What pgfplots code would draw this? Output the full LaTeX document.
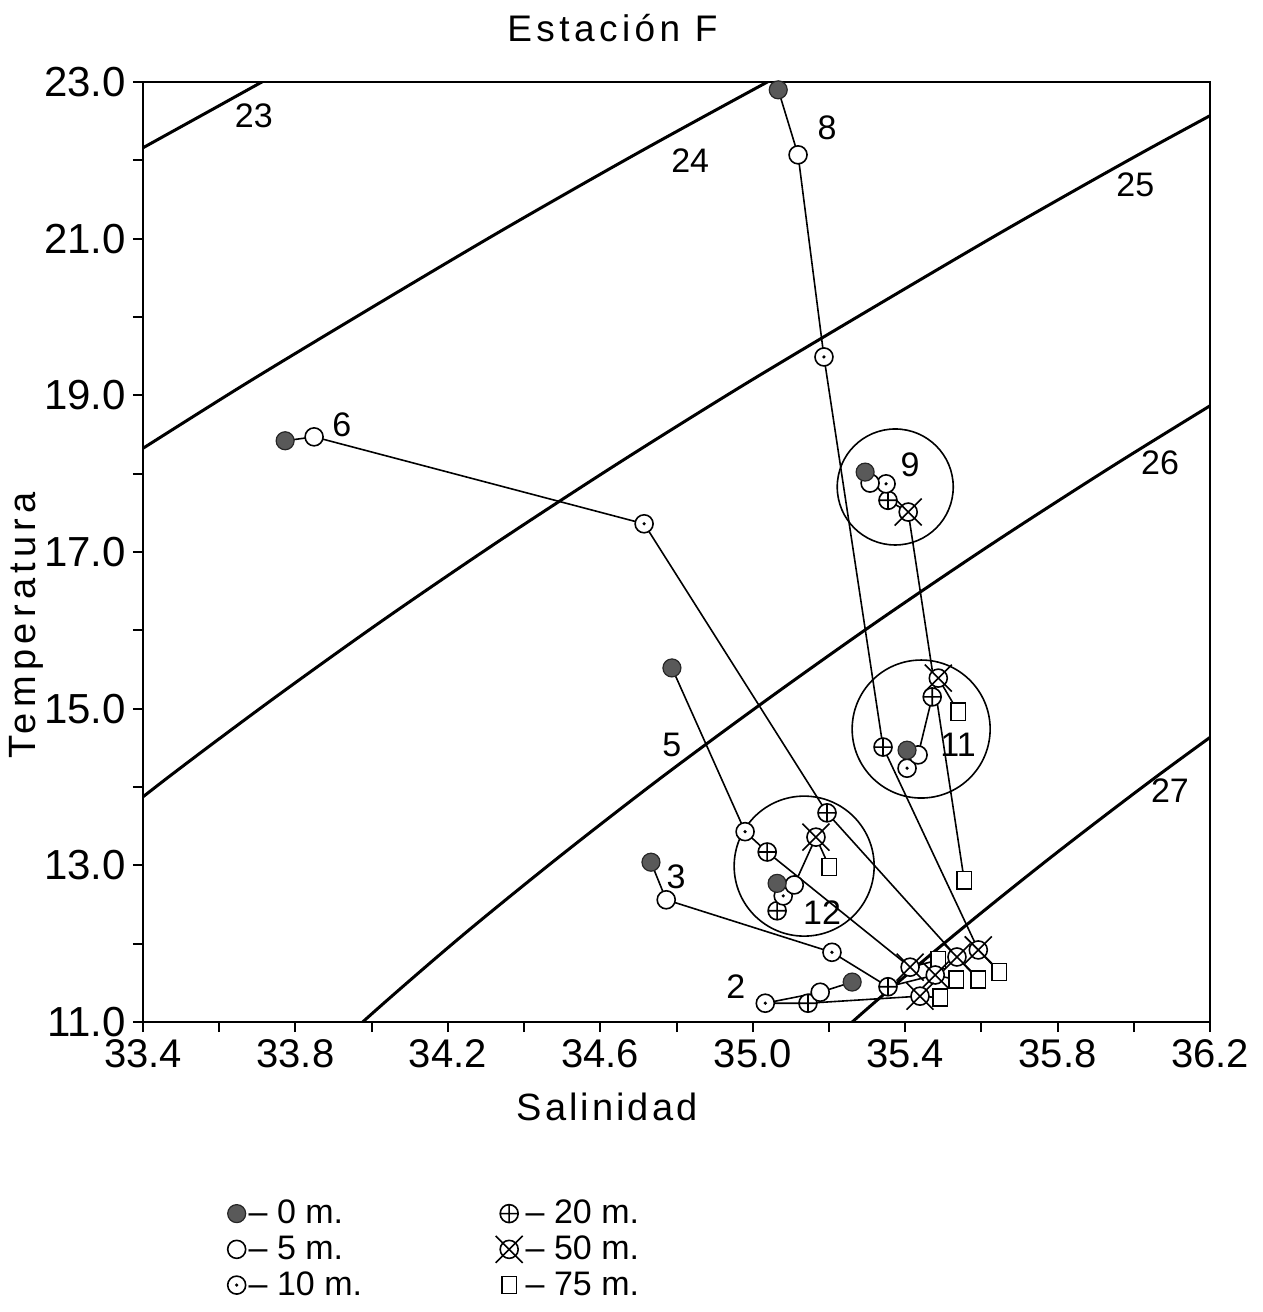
\documentclass[border=0pt]{standalone}
\usepackage{pgfplots}
\pgfplotsset{compat=1.18}
\usepackage{fontspec}
\setmainfont{Liberation Sans}
\usetikzlibrary{plotmarks}

\pgfdeclareplotmark{dotcirc}{%
  \pgfpathcircle{\pgfpointorigin}{\pgfplotmarksize}\pgfusepathqfillstroke
  \begin{pgfscope}%
  \pgfsetfillcolor{black}%
  \pgfpathcircle{\pgfpointorigin}{0.9pt}\pgfusepathqfill
  \end{pgfscope}}
\pgfdeclareplotmark{xcirc}{%
  \pgfpathcircle{\pgfpointorigin}{\pgfplotmarksize}\pgfusepathqfillstroke
  \pgfpathmoveto{\pgfpoint{-1.5\pgfplotmarksize}{-1.5\pgfplotmarksize}}%
  \pgfpathlineto{\pgfpoint{1.5\pgfplotmarksize}{1.5\pgfplotmarksize}}%
  \pgfpathmoveto{\pgfpoint{-1.5\pgfplotmarksize}{1.5\pgfplotmarksize}}%
  \pgfpathlineto{\pgfpoint{1.5\pgfplotmarksize}{-1.5\pgfplotmarksize}}%
  \pgfusepathqstroke}
\pgfdeclareplotmark{rectv}{%
  \pgfpathrectanglecorners{\pgfpoint{-0.8\pgfplotmarksize}{-0.95\pgfplotmarksize}}{\pgfpoint{0.8\pgfplotmarksize}{0.95\pgfplotmarksize}}%
  \pgfusepathqfillstroke}

\pgfplotsset{
  m0/.style={only marks, mark=*, mark size=4.5pt, mark options={fill=black!65, draw=black!85, line width=0.6pt}},
  m5/.style={only marks, mark=*, mark size=4.5pt, mark options={fill=white, draw=black, line width=0.8pt}},
  m10/.style={only marks, mark=dotcirc, mark size=4.5pt, mark options={fill=white, draw=black, line width=0.8pt}},
  m20/.style={only marks, mark=oplus*, mark size=4.5pt, mark options={fill=white, draw=black, line width=0.8pt}},
  m50/.style={only marks, mark=xcirc, mark size=4.5pt, mark options={fill=white, draw=black, line width=0.8pt}},
  m75/.style={only marks, mark=rectv, mark size=4.5pt, mark options={fill=white, draw=black, line width=0.8pt}},
  stn/.style={forget plot, no markers, black, line width=0.8pt},
  iso/.style={forget plot, no markers, black, line width=1.5pt, smooth},
}
\tikzset{lab/.style={font=\fontsize{17}{17}\selectfont}}

\begin{document}
\begin{tikzpicture}
\useasboundingbox (-71.5pt,-145pt) rectangle ++(631.5pt,656pt);
\begin{axis}[
  name=ax,
  at={(0pt,0pt)}, anchor=south west,
  scale only axis,
  width=533.5pt, height=470pt,
  xmin=33.4, xmax=36.2, ymin=11, ymax=23,
  xtick={33.4,33.8,34.2,34.6,35.0,35.4,35.8,36.2},
  minor xtick={33.6,34.0,34.4,34.8,35.2,35.6,36.0},
  ytick={11,13,15,17,19,21,23},
  minor ytick={12,14,16,18,20,22},
  xtick pos=bottom, ytick pos=left,
  tick align=outside,
  major tick length=5pt, minor tick length=5pt,
  every tick/.style={black, line width=1pt},
  axis line style={line width=1.2pt},
  scaled ticks=false,
  /pgf/number format/assume math mode=true,
  xticklabel style={/pgf/number format/fixed, /pgf/number format/fixed zerofill, /pgf/number format/precision=1, font=\fontsize{20}{20}\selectfont},
  yticklabel style={/pgf/number format/fixed, /pgf/number format/fixed zerofill, /pgf/number format/precision=1, font=\fontsize{21}{21}\selectfont},
  title={Estación F},
  title style={at={(axis description cs:0.44,1)}, anchor=center, yshift=21pt, font=\fontsize{18.5}{18.5}\selectfont\addfontfeature{LetterSpace=12}},
  xlabel={Salinidad},
  xlabel style={at={(axis description cs:0.435,0)}, anchor=center, yshift=-42.5pt, font=\fontsize{19}{19}\selectfont\addfontfeature{LetterSpace=8}},
  ylabel={Temperatura},
  ylabel style={at={(axis description cs:-0.109,0.422)}, anchor=center, font=\fontsize{19}{19}\selectfont\addfontfeature{LetterSpace=14}},
  legend columns=2,
  legend cell align=left,
  legend style={draw=none, fill=none, inner sep=0pt, at={(axis description cs:0.079,-0.186)}, anchor=north west,
    font=\fontsize{17}{17}\selectfont, row sep=1.5pt,
    nodes={inner sep=1.5pt},
    /tikz/every even column/.append style={column sep=0pt}},
]
% isopycnals (sigma-t)
\addplot[iso] coordinates {(33.385,22.12)(33.571,22.62)(33.757,23.12)(33.95,23.62)};
\addplot[iso] coordinates {(33.334,18.12)(33.660,19.12)(34.000,20.12)(34.347,21.12)(34.708,22.12)(35.084,23.12)(35.278,23.62)};
\addplot[iso] coordinates {(33.203,13.12)(33.465,14.12)(33.740,15.12)(34.027,16.12)(34.328,17.12)(34.643,18.12)(34.972,19.12)(35.316,20.12)(35.666,21.12)(36.030,22.12)(36.410,23.12)};
\addplot[iso] coordinates {(33.780,10.12)(34.004,11.12)(34.242,12.12)(34.495,13.12)(34.760,14.12)(35.039,15.12)(35.329,16.12)(35.633,17.12)(35.952,18.12)(36.285,19.12)};
\addplot[iso] coordinates {(35.062,10.12)(35.289,11.12)(35.531,12.12)(35.787,13.12)(36.056,14.12)(36.338,15.12)};

% station profiles
\addplot[stn] coordinates {(35.067,22.90)(35.119,22.07)(35.187,19.49)(35.342,14.51)(35.592,11.92)(35.647,11.64)}; % 8
\addplot[stn] coordinates {(35.295,18.02)(35.308,17.88)(35.350,17.87)(35.355,17.66)(35.408,17.51)(35.555,12.81)}; % 9
\addplot[stn] coordinates {(35.405,14.47)(35.405,14.24)(35.434,14.41)(35.471,15.15)(35.487,15.39)(35.539,14.96)}; % 11
\addplot[stn] coordinates {(35.064,12.42)(35.080,12.61)(35.064,12.77)(35.109,12.75)(35.166,13.36)(35.201,12.98)}; % 12
\addplot[stn] coordinates {(33.773,18.42)(33.849,18.47)(34.715,17.36)(35.195,13.67)(35.536,11.83)(35.592,11.54)}; % 6
\addplot[stn] coordinates {(34.788,15.52)(34.980,13.43)(35.038,13.17)(35.413,11.70)(35.487,11.79)}; % 5
\addplot[stn] coordinates {(34.733,13.04)(34.773,12.56)(35.208,11.89)(35.355,11.45)(35.479,11.60)(35.534,11.54)}; % 3
\addplot[stn] coordinates {(35.261,11.51)(35.177,11.38)(35.033,11.24)(35.145,11.24)(35.439,11.33)(35.492,11.31)}; % 2

% depth markers
\addplot[m75, forget plot] coordinates {(35.647,11.64)(35.555,12.81)(35.539,14.96)(35.201,12.98)(35.592,11.54)(35.487,11.79)(35.534,11.54)(35.492,11.31)};
\addplot[m50, forget plot] coordinates {(35.592,11.92)(35.408,17.51)(35.487,15.39)(35.166,13.36)(35.536,11.83)(35.413,11.70)(35.479,11.60)(35.439,11.33)};
\addplot[m20, forget plot] coordinates {(35.342,14.51)(35.355,17.66)(35.471,15.15)(35.064,12.42)(35.195,13.67)(35.038,13.17)(35.355,11.45)(35.145,11.24)};
\addplot[m10, forget plot] coordinates {(35.187,19.49)(35.350,17.87)(35.405,14.24)(35.080,12.61)(34.715,17.36)(34.980,13.43)(35.208,11.89)(35.033,11.24)};
\addplot[m5, forget plot] coordinates {(35.119,22.07)(35.308,17.88)(35.434,14.41)(35.109,12.75)(33.849,18.47)(34.773,12.56)(35.177,11.38)};
\addplot[m0, forget plot] coordinates {(35.067,22.90)(35.295,18.02)(35.405,14.47)(35.064,12.77)(33.773,18.42)(34.788,15.52)(34.733,13.04)(35.261,11.51)};

% group circles
\draw[line width=0.8pt] (axis cs:35.374,17.83) circle[radius=29pt];
\draw[line width=0.8pt] (axis cs:35.442,14.74) circle[radius=34.5pt];
\draw[line width=0.8pt] (axis cs:35.135,12.99) circle[radius=35pt];

% labels
\node[lab] at (axis cs:35.195,22.41) {8};
\node[lab] at (axis cs:35.413,18.11) {9};
\node[lab] at (axis cs:33.922,18.63) {6};
\node[lab] at (axis cs:34.788,14.54) {5};
\node[lab] at (axis cs:34.799,12.85) {3};
\node[lab] at (axis cs:35.182,12.40) {12};
\node[lab] at (axis cs:34.956,11.45) {2};
\node[lab] at (axis cs:35.539,14.54) {11};
\node[lab] at (axis cs:33.691,22.57) {23};
\node[lab] at (axis cs:34.836,22.00) {24};
\node[lab] at (axis cs:36.004,21.69) {25};
\node[lab] at (axis cs:36.069,18.14) {26};
\node[lab] at (axis cs:36.095,13.96) {27};

% legend
\addlegendimage{m0}\addlegendentry{\makebox[122pt][l]{-- 0 m.}}
\addlegendimage{m20}\addlegendentry{-- 20 m.}
\addlegendimage{m5}\addlegendentry{\makebox[122pt][l]{-- 5 m.}}
\addlegendimage{m50}\addlegendentry{-- 50 m.}
\addlegendimage{m10}\addlegendentry{\makebox[122pt][l]{-- 10 m.}}
\addlegendimage{m75}\addlegendentry{-- 75 m.}
\end{axis}
\end{tikzpicture}
\end{document}
